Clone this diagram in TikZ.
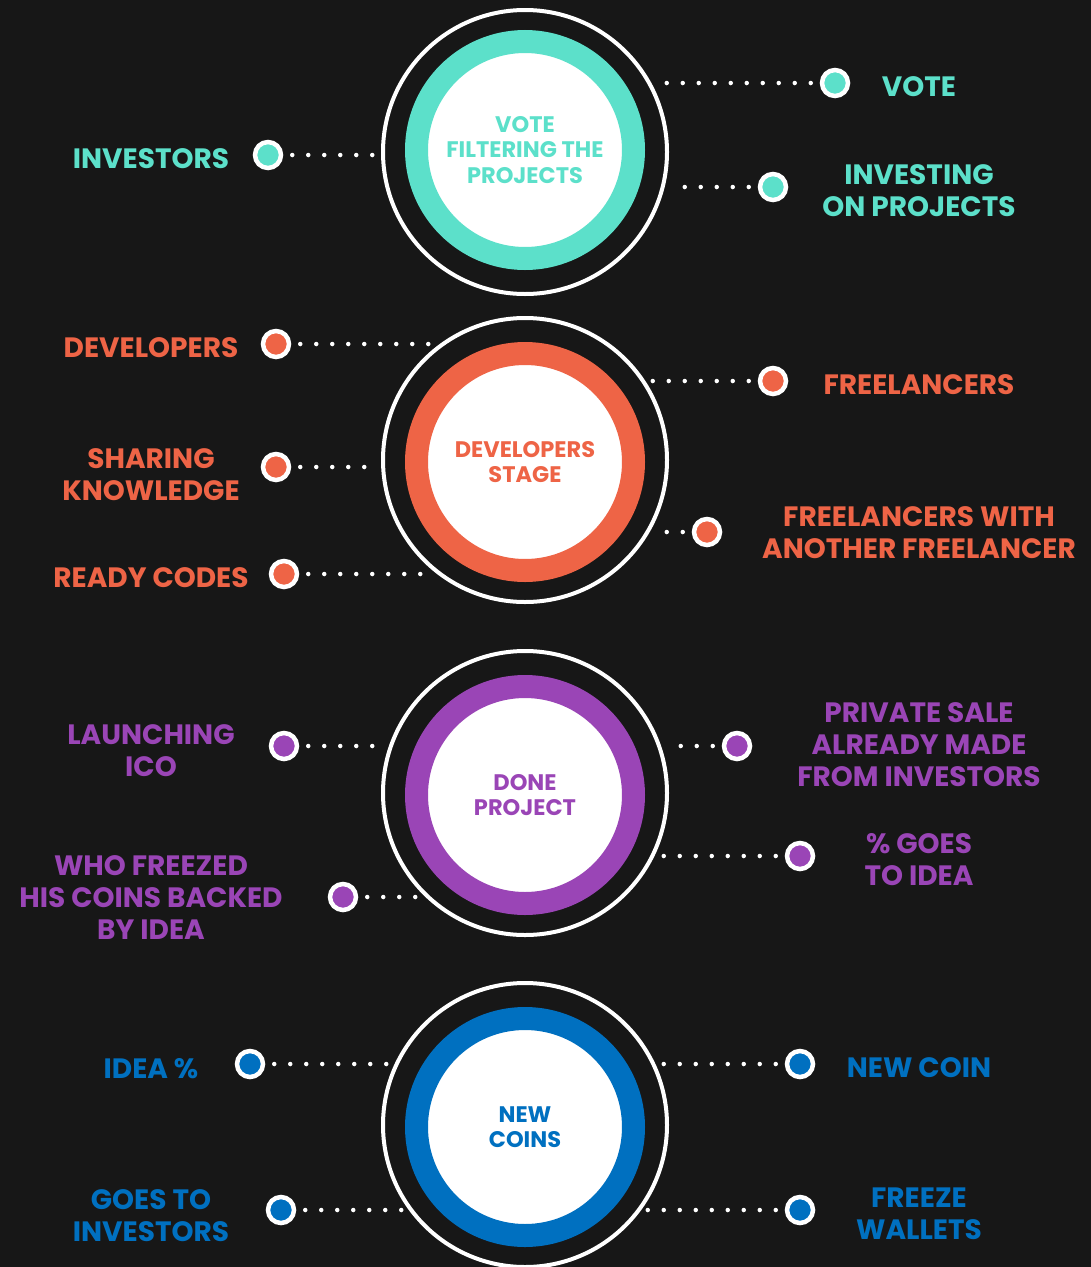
\documentclass[tikz,border=0pt]{standalone}
\usepackage{fontspec}
\setmainfont{Poppins}
\usetikzlibrary{positioning}
\definecolor{bgc}{HTML}{171717}
\definecolor{vote}{HTML}{5CE0CA}
\definecolor{dev}{HTML}{EE6446}
\definecolor{done}{HTML}{9A45B6}
\definecolor{coin}{HTML}{0070C0}

\begin{document}
\begin{tikzpicture}[
    x=1pt, y=-1pt, font=\bfseries,
    halo/.style={
      circle, draw=white, line width=4pt,
      minimum size=284pt, inner sep=0pt
    },
    core/.style={
      circle, draw=#1, fill=white, text=#1, line width=23pt,
      minimum size=217pt, inner sep=0pt, align=center,
      font=\bfseries\fontsize{22.5}{25.5}\selectfont
    },
    dotnode/.style={
      circle, draw=white, fill=#1, line width=4.5pt,
      minimum size=26pt, inner sep=0pt
    },
    lbl/.style={
      text=#1, align=center,
      font=\bfseries\fontsize{28}{32}\selectfont
    },
    dots/.style={
      draw=white, line width=4.5pt, line cap=round,
      dash pattern=on 0pt off 16pt, shorten <=9pt
    }
  ]

  \fill[bgc] (0,0) rectangle (1091,1267);
  \useasboundingbox (0,0) rectangle (1091,1267);

  % Vote
  \node[halo] (h1) at (525,152) {};
  \node[core=vote] (c1) at (525,150) {VOTE\\FILTERING THE\\PROJECTS};

  \node[dotnode=vote] (m11) at (268,155) {};
  \coordinate (e11) at (380,155);
  \node[lbl=vote] (t11) at (151,159) {INVESTORS};

  \node[dotnode=vote] (m12) at (835,83) {};
  \coordinate (e12) at (658,83);
  \node[lbl=vote] (t12) at (919,87) {VOTE};

  \node[dotnode=vote] (m13) at (773,187) {};
  \coordinate (e13) at (670,187);
  \node[lbl=vote] (t13) at (919,191) {INVESTING\\ON PROJECTS};

  \draw[dots] (m11) -- (e11);
  \draw[dots] (m12) -- (e12);
  \draw[dots] (m13) -- (e13);

  % Developers
  \node[halo] (h2) at (525,460) {};
  \node[core=dev] (c2) at (525,462) {DEVELOPERS\\STAGE};

  \node[dotnode=dev] (m21) at (276,344) {};
  \coordinate (e21) at (432,344);
  \node[lbl=dev] (t21) at (151,348) {DEVELOPERS};

  \node[dotnode=dev] (m22) at (773,381) {};
  \coordinate (e22) at (648,381);
  \node[lbl=dev] (t22) at (919,385) {FREELANCERS};

  \node[dotnode=dev] (m23) at (276,467) {};
  \coordinate (e23) at (380,467);
  \node[lbl=dev] (t23) at (151,475) {SHARING\\KNOWLEDGE};

  \node[dotnode=dev] (m24) at (284,574) {};
  \coordinate (e24) at (432,574);
  \node[lbl=dev] (t24) at (151,578) {READY CODES};

  \node[dotnode=dev] (m25) at (707,532) {};
  \coordinate (e25) at (655,532);
  \node[lbl=dev] (t25) at (919,533) {FREELANCERS WITH\\ANOTHER FREELANCER};

  \draw[dots] (m21) -- (e21);
  \draw[dots] (m22) -- (e22);
  \draw[dots] (m23) -- (e23);
  \draw[dots] (m24) -- (e24);
  \draw[dots] (m25) -- (e25);

  % Done project
  \node[halo] (h3) at (525,793) {};
  \node[core=done] (c3) at (525,795) {DONE\\PROJECT};

  \node[dotnode=done] (m31) at (284,746) {};
  \coordinate (e31) at (386,746);
  \node[lbl=done] (t31) at (151,751) {LAUNCHING\\ICO};

  \node[dotnode=done] (m32) at (737,746) {};
  \coordinate (e32) at (665,746);
  \node[lbl=done] (t32) at (919,745) {PRIVATE SALE\\ALREADY MADE\\FROM INVESTORS};

  \node[dotnode=done] (m33) at (343,897) {};
  \coordinate (e33) at (425,897);
  \node[lbl=done] (t33) at (151,898) {WHO FREEZED\\HIS COINS BACKED\\BY IDEA};

  \node[dotnode=done] (m34) at (800,856) {};
  \coordinate (e34) at (660,856);
  \node[lbl=done] (t34) at (919,860) {\% GOES\\TO IDEA};

  \draw[dots] (m31) -- (e31);
  \draw[dots] (m32) -- (e32);
  \draw[dots] (m33) -- (e33);
  \draw[dots] (m34) -- (e34);

  % New coins
  \node[halo] (h4) at (525,1125) {};
  \node[core=coin] (c4) at (525,1127) {NEW\\COINS};

  \node[dotnode=coin] (m41) at (250,1064) {};
  \coordinate (e41) at (390,1064);
  \node[lbl=coin] (t41) at (151,1069) {IDEA \%};

  \node[dotnode=coin] (m42) at (800,1064) {};
  \coordinate (e42) at (660,1064);
  \node[lbl=coin] (t42) at (919,1068) {NEW COIN};

  \node[dotnode=coin] (m43) at (281,1210) {};
  \coordinate (e43) at (405,1210);
  \node[lbl=coin] (t43) at (151,1216) {GOES TO\\INVESTORS};

  \node[dotnode=coin] (m44) at (800,1210) {};
  \coordinate (e44) at (645,1210);
  \node[lbl=coin] (t44) at (919,1214) {FREEZE\\WALLETS};

  \draw[dots] (m41) -- (e41);
  \draw[dots] (m42) -- (e42);
  \draw[dots] (m43) -- (e43);
  \draw[dots] (m44) -- (e44);

\end{tikzpicture}
\end{document}
